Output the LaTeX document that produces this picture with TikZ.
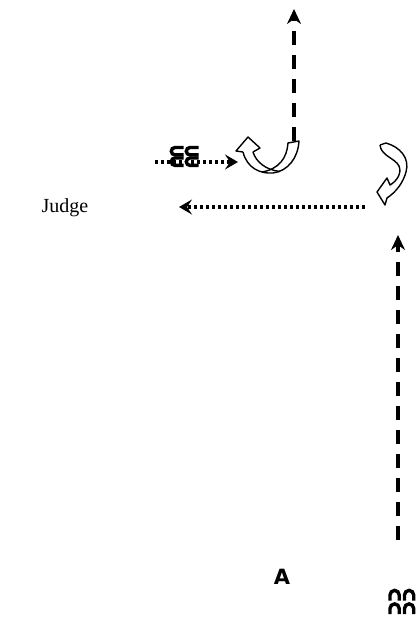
\documentclass[tikz,border=0pt]{standalone}
\usepackage{fontspec}
\setmainfont{Liberation Serif}
\newfontfamily\sansbold{DejaVu Sans}
\usetikzlibrary{arrows.meta}
\begin{document}
\begin{tikzpicture}[x=1pt,y=-1pt,
  dasharrow/.style={line width=3.4pt, dash pattern=on 14pt off 10pt, -{Stealth[length=15pt,width=14pt,inset=5pt]}},
  dotarrow/.style={line width=3.2pt, dash pattern=on 3pt off 3pt, -{Stealth[length=13pt,width=15pt,inset=5pt]}},
  curl/.style={line width=1.4pt, line join=round},
  glyph/.style={line width=3.4pt}]
\useasboundingbox (0,0) rectangle (417,629);

% texts
\node[font=\fontsize{20}{20}\selectfont] (judge) at (65,208) {Judge};
\node[font=\sansbold\bfseries\fontsize{21}{21}\selectfont] (a) at (282,577) {A};

% coordinates
\coordinate (topstart) at (294,141);
\coordinate (topend) at (294,9);
\coordinate (rstart) at (398,540);
\coordinate (rend) at (398,235);
\coordinate (dstart) at (365,207);
\coordinate (dend) at (179,207);
\coordinate (gstart) at (155,162);
\coordinate (gend) at (238,162);

% connectors
\draw[dasharrow] (topstart) -- (topend);
\draw[dasharrow] (rstart) -- (rend);
\draw[dotarrow] (dstart) -- (dend);
\draw[dotarrow] (gstart) -- (gend);

% glyph on dotted line
\foreach \cx/\cy in {171/147.5, 186/147.5, 171/158, 186/158}
  \draw[glyph] (\cx+12.5,\cy) -- (\cx+4,\cy) arc[start angle=270,end angle=90,radius=3.7] -- (\cx+12.5,\cy+7.4);

% left curved-up arrow
\draw[curl, fill=white] (243,152) .. controls (247,168) and (260,174) .. (273,173)
   .. controls (288,171) and (298,158) .. (299,141) -- (288,143)
   .. controls (287,158) and (279,169) .. (262,172);
\draw[curl] (253,152) .. controls (256,162) and (266,170) .. (280,171.5);
\draw[curl] (243,152) -- (236,151) -- (248,137) -- (260,148) -- (253,152);

% right curved arrow
\draw[curl] (380,145) -- (386,143) .. controls (400,147) and (410,158) .. (406,172)
   .. controls (403,183) and (396,192) .. (387,198) -- (385,205) -- (377,192)
   -- (387,178) -- (390,185) .. controls (397,181) and (402,173) .. (399,166)
   .. controls (395,158) and (381,156) .. (380,145);

% bottom-right glyphs
\foreach \nx/\ny in {390/590, 404.5/590, 390/603.5, 404.5/603.5}
  \draw[glyph] (\nx,\ny+10.5) -- (\nx,\ny+5) arc[start angle=180,end angle=360,radius=4.6] -- (\nx+9.2,\ny+10.5);
\end{tikzpicture}
\end{document}
